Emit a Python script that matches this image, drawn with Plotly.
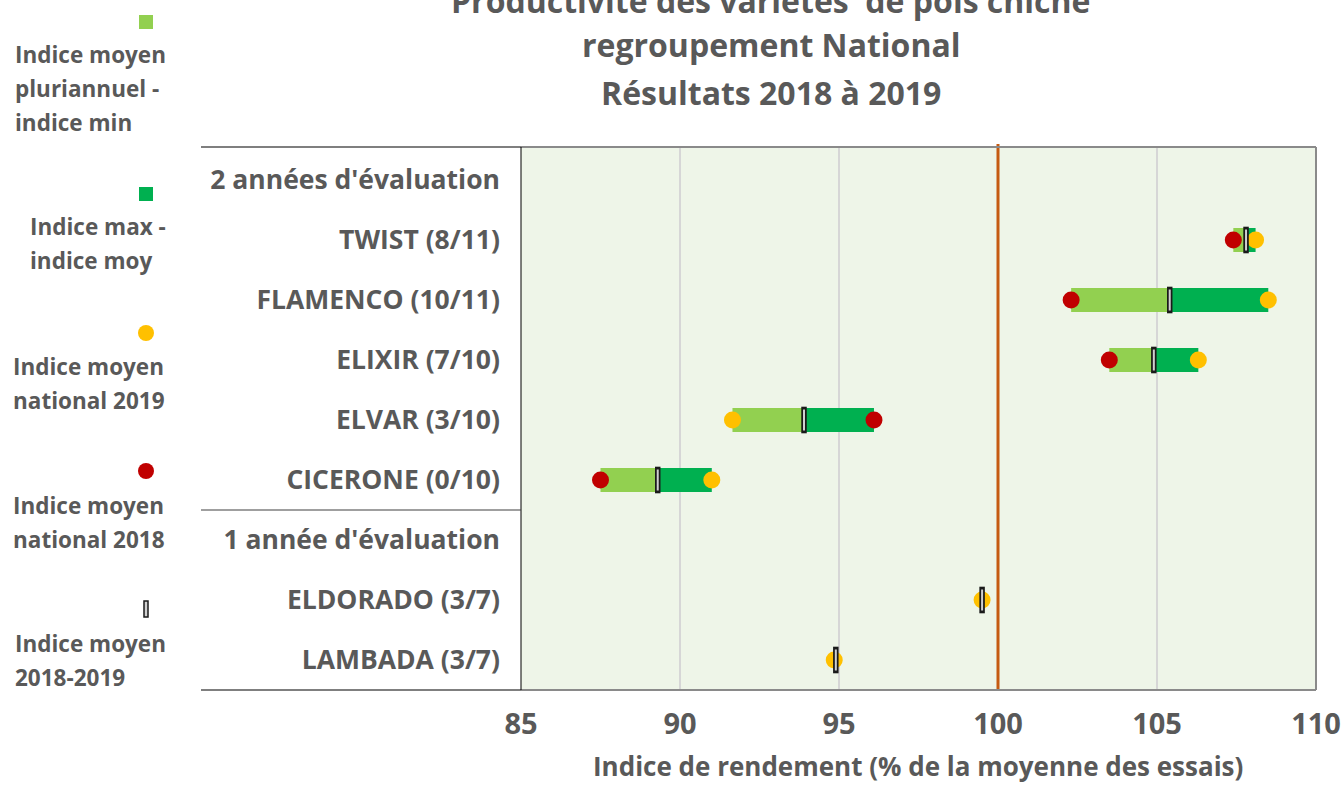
import plotly.graph_objects as go

# ---------------- data ----------------
categories = [
    "2 années d'évaluation",
    "TWIST (8/11)",
    "FLAMENCO (10/11)",
    "ELIXIR (7/10)",
    "ELVAR (3/10)",
    "CICERONE (0/10)",
    "1 année d'évaluation",
    "ELDORADO (3/7)",
    "LAMBADA (3/7)",
]
# multi-year indices (None = no data)
idx_min = [None, 107.4, 102.3, 103.5, 91.65, 87.5, None, None, None]
idx_moy = [None, 107.8, 105.4, 104.9, 93.9, 89.3, None, 99.5, 94.9]
idx_max = [None, 108.1, 108.5, 106.3, 96.1, 91.0, None, None, None]
nat_2018 = [None, 107.4, 102.3, 103.5, 96.1, 87.5, None, None, None]
nat_2019 = [None, 108.1, 108.5, 106.3, 91.65, 91.0, None, 99.5, 94.85]
ref_value = 100
x_ticks = [85, 90, 95, 100, 105, 110]
x_range = [85, 110]

legend_items = [
    ["Indice moyen", "pluriannuel -", "indice min"],
    ["Indice max -", "indice moy"],
    ["Indice moyen", "national 2019"],
    ["Indice moyen", "national 2018"],
    ["Indice moyen", "2018-2019"],
]
title_lines = ["Productivité des variétés  de pois chiche",
               "regroupement National",
               "Résultats 2018 à 2019"]
x_title = "Indice de rendement (% de la moyenne des essais)"

# ---------------- styles ----------------
W, H = 1344, 785
FONT = "Open Sans"
GREY_TXT = "#595959"
C_LIGHT = "#92D050"
C_DARK = "#00B050"
C_2019 = "#FFC000"
C_2018 = "#C00000"
C_REF = "#C55A11"

PL, PR, PT, PB = 521, 1316, 147, 690   # plot area in px


def px_x(v):
    return v / W


def px_y(v):
    return 1 - v / H


light_w = [(b - a) if a is not None and b is not None else None for a, b in zip(idx_min, idx_moy)]
dark_w = [(b - a) if a is not None and b is not None else None for a, b in zip(idx_moy, idx_max)]
base_dark = [m if w is not None else None for m, w in zip(idx_moy, dark_w)]

fig = go.Figure()
fig.add_trace(go.Bar(y=categories, x=light_w, base=idx_min, orientation="h",
                     marker=dict(color=C_LIGHT, line=dict(width=0)), width=0.4,
                     showlegend=False, hoverinfo="skip"))
fig.add_trace(go.Bar(y=categories, x=dark_w, base=base_dark, orientation="h",
                     marker=dict(color=C_DARK, line=dict(width=0)), width=0.4,
                     showlegend=False, hoverinfo="skip"))
fig.add_trace(go.Scatter(y=categories, x=nat_2018, mode="markers",
                         marker=dict(symbol="circle", size=17, color=C_2018, line=dict(width=0)),
                         showlegend=False))
fig.add_trace(go.Scatter(y=categories, x=nat_2019, mode="markers",
                         marker=dict(symbol="circle", size=17, color=C_2019, line=dict(width=0)),
                         showlegend=False))
fig.add_trace(go.Scatter(y=categories, x=idx_moy, mode="markers",
                         marker=dict(symbol="line-ns", size=19, color="#1a1a1a",
                                     line=dict(width=5.5, color="#1a1a1a")),
                         showlegend=False))
fig.add_trace(go.Scatter(y=categories, x=idx_moy, mode="markers",
                         marker=dict(symbol="line-ns", size=15, color="#d0d0d0",
                                     line=dict(width=2, color="#d0d0d0")),
                         showlegend=False))

shapes = []
# reference line
shapes.append(dict(type="line", xref="x", yref="paper", x0=ref_value, x1=ref_value,
                   y0=px_y(PB), y1=px_y(PT - 3), line=dict(color=C_REF, width=3)))
# plot frame
shapes.append(dict(type="line", xref="paper", yref="paper", x0=px_x(PL), x1=px_x(PR),
                   y0=px_y(PT), y1=px_y(PT), line=dict(color="#8a8a8a", width=2)))
shapes.append(dict(type="line", xref="paper", yref="paper", x0=px_x(PR), x1=px_x(PR),
                   y0=px_y(PT), y1=px_y(PB), line=dict(color="#8a8a8a", width=2)))
shapes.append(dict(type="line", xref="paper", yref="paper", x0=px_x(PL), x1=px_x(PR),
                   y0=px_y(PB), y1=px_y(PB), line=dict(color="#8a8a8a", width=2)))
shapes.append(dict(type="line", xref="paper", yref="paper", x0=px_x(PL), x1=px_x(PL),
                   y0=px_y(PT), y1=px_y(PB), line=dict(color="#000000", width=1)))
# label column lines
shapes.append(dict(type="line", xref="paper", yref="paper", x0=px_x(201), x1=px_x(PL),
                   y0=px_y(PT), y1=px_y(PT), line=dict(color="#000000", width=1.2)))
shapes.append(dict(type="line", xref="paper", yref="y", x0=px_x(201), x1=px_x(PL),
                   y0=5.5, y1=5.5, line=dict(color="#404040", width=1.2)))
shapes.append(dict(type="line", xref="paper", yref="paper", x0=px_x(201), x1=px_x(PL),
                   y0=px_y(PB), y1=px_y(PB), line=dict(color="#000000", width=1.2)))

# legend glyphs
glyph_cx = 146
glyph_y = [22, 194, 333, 471, 609]
shapes.append(dict(type="rect", xref="paper", yref="paper",
                   x0=px_x(glyph_cx - 7), x1=px_x(glyph_cx + 7),
                   y0=px_y(glyph_y[0] + 7), y1=px_y(glyph_y[0] - 7),
                   fillcolor=C_LIGHT, line=dict(width=0)))
shapes.append(dict(type="rect", xref="paper", yref="paper",
                   x0=px_x(glyph_cx - 7), x1=px_x(glyph_cx + 7),
                   y0=px_y(glyph_y[1] + 7), y1=px_y(glyph_y[1] - 7),
                   fillcolor=C_DARK, line=dict(width=0)))
for gy, col in ((glyph_y[2], C_2019), (glyph_y[3], C_2018)):
    shapes.append(dict(type="circle", xref="paper", yref="paper",
                       x0=px_x(glyph_cx - 8), x1=px_x(glyph_cx + 8),
                       y0=px_y(gy + 8), y1=px_y(gy - 8),
                       fillcolor=col, line=dict(width=0)))
shapes.append(dict(type="rect", xref="paper", yref="paper",
                   x0=px_x(glyph_cx - 2), x1=px_x(glyph_cx + 2),
                   y0=px_y(glyph_y[4] + 8), y1=px_y(glyph_y[4] - 8),
                   fillcolor="#d0d0d0", line=dict(width=1.5, color="#1a1a1a")))

annotations = []
legend_text_left = [13, 28, 11, 11, 13]
legend_first_line = [55, 227, 366, 505, 643]
for items, lx, ly in zip(legend_items, legend_text_left, legend_first_line):
    for i, line in enumerate(items):
        annotations.append(dict(text=line, xref="paper", yref="paper",
                                x=px_x(lx), y=px_y(ly + 34 * i), xanchor="left", yanchor="middle",
                                showarrow=False,
                                font=dict(family=FONT, size=22.5, color=GREY_TXT, weight="bold")))
# title
for line, ty in zip(title_lines, [0, 45, 93]):
    annotations.append(dict(text=line, xref="paper", yref="paper", x=px_x(771), y=px_y(ty),
                            xanchor="center", yanchor="middle", showarrow=False,
                            font=dict(family=FONT, size=32, color=GREY_TXT, weight="bold")))
# x axis title
annotations.append(dict(text=x_title, xref="paper", yref="paper", x=px_x(918), y=px_y(766),
                        xanchor="center", yanchor="middle", showarrow=False,
                        font=dict(family=FONT, size=26, color=GREY_TXT, weight="bold")))

fig.update_layout(
    width=W, height=H,
    margin=dict(l=0, r=0, t=0, b=0, autoexpand=False),
    paper_bgcolor="white",
    plot_bgcolor="#EEF5E8",
    barmode="overlay",
    showlegend=False,
    shapes=shapes,
    annotations=annotations,
    xaxis=dict(domain=[px_x(PL), px_x(PR)], range=x_range, tickvals=x_ticks,
               showgrid=True, gridcolor="#d6d6d6", gridwidth=2, zeroline=False,
               showline=False, ticks="", ticklabelstandoff=14, automargin=False,
               tickfont=dict(family=FONT, size=29, color=GREY_TXT, weight="bold")),
    yaxis=dict(domain=[px_y(PB), px_y(PT)], type="category", categoryorder="array",
               categoryarray=categories, range=[8.5, -0.55], showgrid=False,
               zeroline=False, showline=False, ticks="", ticklabelstandoff=20,
               automargin=False,
               tickfont=dict(family=FONT, size=26.5, color=GREY_TXT, weight="bold")),
)

# remove the default page margin so the figure fills the browser window exactly
fig.write_html("out.html",
               config={"displayModeBar": False},
               post_script="document.body.style.margin='0';"
                           "document.documentElement.style.overflow='hidden';")
